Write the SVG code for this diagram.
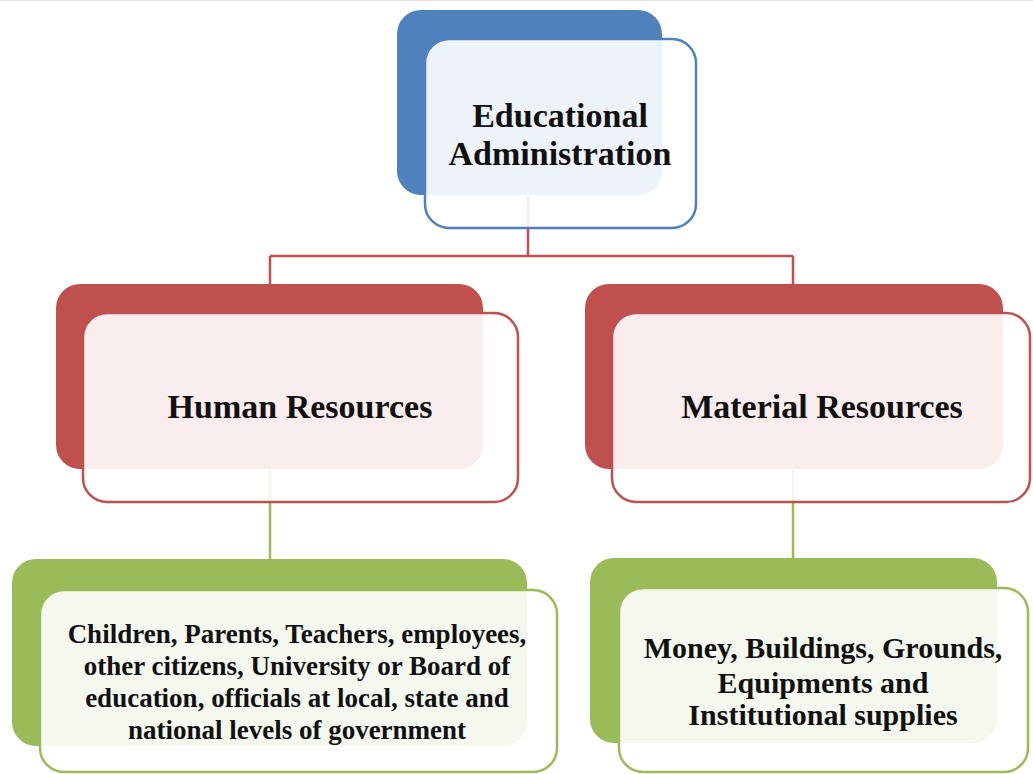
<svg xmlns="http://www.w3.org/2000/svg" width="1033" height="774" viewBox="0 0 1033 774">
<style>
.t{font-family:"Liberation Serif","Times New Roman",serif;font-weight:bold;fill:#111;text-anchor:middle}
.big{font-size:34px}
.mid{font-size:30px}
.sm{font-size:27px}
.front{fill:#fff;fill-opacity:0.9;stroke-width:2.5}
.blue .back{fill:#4F81BD}.blue .front{stroke:#4F81BD}
.red .back{fill:#C0504D}.red .front{stroke:#C0504D}
.green .back{fill:#9BBB59}.green .front{stroke:#9BBB59}
.conn{fill:none;stroke-width:2.5}
</style>
<rect width="1033" height="774" fill="#fff"/>
<line x1="0" y1="0.5" x2="1033" y2="0.5" stroke="#E6E0F0" stroke-width="1"/>
<g id="connectors">
<path class="conn" stroke="#C0504D" d="M528 195 V256 M270 256 H793 M270 256 V284 M793 256 V284"/>
<path class="conn" stroke="#9BBB59" d="M270 469 V559 M793 469 V558"/>
</g>
<g id="node-admin" class="blue">
<rect class="back" x="397" y="10" width="265" height="185" rx="24"/>
<rect class="front" x="425" y="39" width="271" height="189" rx="24"/>
<text class="t big" x="560" y="127">Educational</text>
<text class="t big" x="560" y="165">Administration</text>
</g>
<g id="node-human" class="red">
<rect class="back" x="56" y="284" width="427" height="185" rx="24"/>
<rect class="front" x="83" y="313" width="435" height="189" rx="24"/>
<text class="t big" x="300" y="418">Human Resources</text>
</g>
<g id="node-material" class="red">
<rect class="back" x="585" y="284" width="418" height="185" rx="24"/>
<rect class="front" x="612" y="313" width="418" height="189" rx="24"/>
<text class="t big" x="822" y="418">Material Resources</text>
</g>
<g id="node-human-list" class="green">
<rect class="back" x="12" y="559" width="515" height="187" rx="24"/>
<rect class="front" x="40" y="590" width="517" height="182" rx="24"/>
<text class="t sm" x="297" y="643">Children, Parents, Teachers, employees,</text>
<text class="t sm" x="297" y="675">other citizens, University or Board of</text>
<text class="t sm" x="297" y="707">education, officials at local, state and</text>
<text class="t sm" x="297" y="739">national levels of government</text>
</g>
<g id="node-material-list" class="green">
<rect class="back" x="590" y="558" width="407" height="185" rx="24"/>
<rect class="front" x="619" y="588" width="409" height="184" rx="24"/>
<text class="t mid" x="823" y="658">Money, Buildings, Grounds,</text>
<text class="t mid" x="823" y="693">Equipments and</text>
<text class="t mid" x="823" y="725">Institutional supplies</text>
</g>
</svg>
